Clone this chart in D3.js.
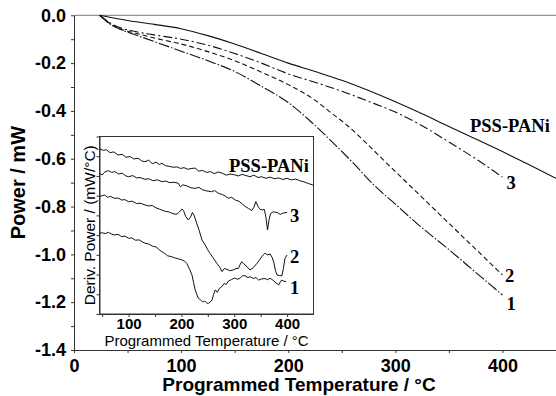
<!DOCTYPE html>
<html><head><meta charset="utf-8">
<script src="https://cdn.jsdelivr.net/npm/d3@7/dist/d3.min.js"></script>
<style>body{margin:0;background:#fff}svg{display:block}</style>
</head><body>
<svg id="c" width="556" height="396"></svg>
<script>
// ---- Main plot data: Programmed Temperature (°C) vs Power (mW)
const mainPSS = [[24,0],[50,-0.022],[75,-0.038],[100,-0.056],[125,-0.085],[150,-0.12],[175,-0.16],[200,-0.2],[225,-0.235],[250,-0.272],[275,-0.315],[300,-0.362],[325,-0.412],[350,-0.465],[375,-0.517],[400,-0.57],[425,-0.625],[450,-0.682]];
const main3 = [[24,0],[30,-0.02],[35,-0.035],[45,-0.055],[55,-0.066],[75,-0.082],[100,-0.1],[125,-0.125],[150,-0.16],[175,-0.2],[200,-0.245],[225,-0.28],[250,-0.318],[275,-0.36],[300,-0.405],[325,-0.462],[350,-0.53],[375,-0.6],[400,-0.677]];
const main2 = [[24,0],[30,-0.022],[35,-0.04],[45,-0.06],[55,-0.072],[75,-0.095],[100,-0.12],[125,-0.152],[150,-0.19],[175,-0.238],[200,-0.29],[225,-0.355],[240,-0.408],[255,-0.46],[270,-0.522],[290,-0.61],[320,-0.74],[350,-0.87],[375,-0.978],[400,-1.086]];
const main1 = [[24,0],[30,-0.024],[35,-0.04],[45,-0.062],[55,-0.078],[75,-0.11],[100,-0.15],[125,-0.19],[150,-0.235],[175,-0.297],[200,-0.365],[220,-0.44],[240,-0.525],[260,-0.615],[280,-0.71],[300,-0.79],[320,-0.87],[350,-0.98],[375,-1.075],[400,-1.17]];
const mainLabels = ["PSS-PANi","3","2","1"];
const yMainTicks = [0,-0.1,-0.2,-0.3,-0.4,-0.5,-0.6,-0.7,-0.8,-0.9,-1.0,-1.1,-1.2,-1.3,-1.4];
const xMainTicks = [0,50,100,150,200,250,300,350,400,450];

// ---- Inset data: Deriv. Power (arbitrary offset units)
const insPSS = [[45,8.37],[52,8.30],[58,8.33],[65,8.18],[72,8.22],[80,8.06],[88,8.10],[95,7.95],[103,7.98],[110,7.86],[118,7.90],[125,7.76],[131,7.72],[138,7.80],[145,7.62],[152,7.70],[158,7.58],[163,7.64],[170,7.52],[178,7.48],[185,7.44],[192,7.46],[198,7.38],[205,7.42],[212,7.34],[220,7.38],[226,7.40],[233,7.24],[240,7.28],[248,7.18],[255,7.22],[262,7.12],[270,7.20],[277,7.14],[285,7.04],[292,7.10],[300,7.06],[308,7.00],[315,7.08],[322,7.02],[330,6.96],[337,7.04],[345,6.92],[352,6.96],[360,6.88],[368,6.94],[376,6.86],[384,6.90],[392,6.82],[400,6.88],[408,6.80],[416,6.84],[424,6.76],[432,6.70],[440,6.62],[449,6.54]];
const ins3 = [[45,7.13],[50,7.05],[55,7.20],[62,7.27],[68,7.18],[74,7.22],[81,7.10],[88,7.14],[95,7.00],[100,6.96],[108,7.02],[115,6.90],[122,6.92],[131,6.83],[138,6.86],[146,6.76],[155,6.80],[163,6.71],[170,6.74],[178,6.66],[186,6.68],[194,6.63],[198,6.45],[203,6.55],[210,6.50],[218,6.40],[226,6.37],[233,6.42],[240,6.30],[248,6.24],[257,6.20],[263,6.26],[270,6.12],[278,6.05],[285,5.95],[289,5.87],[295,5.92],[302,5.78],[310,5.70],[316,5.55],[321,5.45],[327,5.35],[333,5.25],[337,5.40],[341,5.70],[345,5.45],[349,5.30],[353,5.28],[357,5.30],[360,4.90],[363,4.26],[366,4.80],[369,5.10],[374,5.18],[381,5.15],[387,5.05],[393,5.12],[400,5.15]];
const ins2 = [[45,5.95],[50,6.00],[55,6.03],[60,5.92],[66,5.96],[74,5.86],[80,5.88],[87,5.78],[93,5.80],[100,5.69],[107,5.72],[115,5.60],[122,5.62],[131,5.53],[138,5.48],[145,5.50],[152,5.38],[158,5.32],[163,5.27],[170,5.20],[176,5.18],[182,5.11],[188,5.06],[192,5.07],[197,5.20],[201,5.32],[204,5.25],[208,4.95],[213,4.77],[217,4.90],[221,5.15],[224,5.00],[229,4.60],[234,4.20],[239,3.75],[245,3.50],[250,3.25],[254,3.08],[260,2.85],[267,2.57],[272,2.40],[277,2.15],[281,2.30],[286,2.27],[291,2.20],[298,2.23],[303,2.30],[308,2.32],[311,2.50],[314,2.65],[318,2.55],[324,2.40],[330,2.23],[336,2.35],[343,2.57],[348,2.75],[353,2.94],[358,3.08],[363,3.00],[368,3.04],[372,2.85],[375,2.60],[378,2.20],[381,1.98],[386,1.95],[390,1.93],[393,2.30],[396,2.82],[400,2.99]];
const ins1 = [[45,4.09],[50,4.12],[56,4.08],[62,4.14],[68,4.05],[74,4.01],[80,4.04],[87,3.92],[93,3.95],[100,3.84],[106,3.86],[113,3.74],[120,3.76],[126,3.66],[131,3.59],[138,3.55],[145,3.44],[152,3.40],[158,3.26],[163,3.16],[168,3.08],[174,2.95],[181,2.91],[187,2.85],[194,2.80],[201,2.74],[206,2.68],[210,2.57],[215,2.30],[220,1.98],[223,1.60],[226,1.22],[229,1.00],[232,0.80],[236,0.72],[240,0.62],[244,0.66],[248,0.55],[251,0.54],[255,0.62],[258,0.71],[261,1.00],[264,1.22],[268,1.10],[272,1.30],[276,1.37],[281,1.55],[285,1.50],[289,1.67],[295,1.75],[301,1.83],[306,1.76],[311,1.81],[316,1.95],[321,1.93],[326,1.85],[330,1.89],[336,1.80],[341,1.85],[346,1.72],[352,1.78],[358,1.80],[363,1.74],[368,1.81],[374,1.70],[379,1.58],[384,1.47],[387,1.62],[390,1.72],[394,1.66],[398,1.64]];
const insLabels = ["PSS-PANi","3","2","1"];
const xInsTicks = [50,100,150,200,250,300,350,400];
const yInsTicks = [0,1,2,3,4,5,6,7,8,9];

const svg = d3.select("#c");
const SANS = "'Liberation Sans', Arial, sans-serif";
const SERIF = "'Liberation Serif', 'Times New Roman', serif";

// ---------- Main plot ----------
const x = d3.scaleLinear([0,450],[74,556]);
const y = d3.scaleLinear([-1.4,0],[350,15.3]);

const axisCol = "#333";
svg.append("line").attr("x1",x(0)).attr("x2",x(450)).attr("y1",y(0)).attr("y2",y(0))
  .attr("stroke","#777").attr("stroke-width",1);

const fmt1 = d => d3.format(".1f")(d).replace("−","-");
const gy = svg.append("g").attr("transform",`translate(${x(0)},0)`)
  .call(d3.axisLeft(y).tickValues(yMainTicks).tickSize(3).tickSizeOuter(0).tickPadding(5)
    .tickFormat(d => (Math.round(Math.abs(d)*10)%2===0) ? fmt1(d) : ""));
const gx = svg.append("g").attr("transform",`translate(0,${y(-1.4)})`)
  .call(d3.axisBottom(x).tickValues(xMainTicks).tickSize(3).tickSizeOuter(0).tickPadding(6)
    .tickFormat(d => (d%100===0 && d<450) ? d : ""));
[gy,gx].forEach(g=>{
  g.selectAll("path,line").attr("stroke",axisCol);
  g.selectAll("text").attr("font-family",SANS).attr("font-weight","bold").attr("font-size",18).attr("fill","#000");
});

svg.append("text").attr("x",299).attr("y",391).attr("text-anchor","middle")
  .attr("font-family",SANS).attr("font-weight","bold").attr("font-size",19)
  .text("Programmed Temperature / °C");
svg.append("text").attr("transform",`translate(25,${(y(0)+y(-1.4))/2}) rotate(-90)`).attr("text-anchor","middle")
  .attr("font-family",SANS).attr("font-weight","bold").attr("font-size",20)
  .text("Power / mW");

const lineMain = d3.line().x(d=>x(d[0])).y(d=>y(d[1])).curve(d3.curveMonotoneX);
const mainSeries = [
  {d:mainPSS, dash:null},
  {d:main3, dash:"9,3,2,3"},
  {d:main2, dash:"5,3"},
  {d:main1, dash:"11,2,1.5,2"}
];
mainSeries.forEach(s=>{
  svg.append("path").attr("d",lineMain(s.d)).attr("fill","none").attr("stroke","#111")
    .attr("stroke-width",1.1).attr("stroke-dasharray",s.dash);
});
const mainLabPos = [[470,131.5],[506.5,188.5],[505,281.5],[506.5,310]];
mainLabels.forEach((t,i)=>{
  svg.append("text").attr("x",mainLabPos[i][0]).attr("y",mainLabPos[i][1])
    .attr("font-family",SERIF).attr("font-weight","bold").attr("font-size",18.5).text(t);
});

// ---------- Inset ----------
const xi = d3.scaleLinear([45,450],[99.5,313.5]);
const yi = d3.scaleLinear([0,9],[314,136.5]);
svg.append("rect").attr("x",xi(45)).attr("y",yi(9)).attr("width",xi(450)-xi(45)).attr("height",yi(0)-yi(9))
  .attr("fill","#fff").attr("stroke","#333").attr("stroke-width",1);

const giy = svg.append("g").attr("transform",`translate(${xi(45)},0)`)
  .call(d3.axisLeft(yi).tickValues(yInsTicks).tickSize(3).tickSizeOuter(0).tickFormat(""));
const gix = svg.append("g").attr("transform",`translate(0,${yi(0)})`)
  .call(d3.axisBottom(xi).tickValues(xInsTicks).tickSize(3).tickSizeOuter(0).tickPadding(1)
    .tickFormat(d => d%100===0 ? d : ""));
[giy,gix].forEach(g=>{
  g.selectAll("path,line").attr("stroke",axisCol);
  g.selectAll("text").attr("font-family",SANS).attr("font-weight","bold").attr("font-size",15).attr("fill","#000");
});
svg.append("text").attr("x",(xi(45)+xi(450))/2).attr("y",346).attr("text-anchor","middle")
  .attr("font-family",SANS).attr("font-size",15).text("Programmed Temperature / °C");
svg.append("text").attr("transform",`translate(94.5,${(yi(0)+yi(9))/2}) rotate(-90)`).attr("text-anchor","middle")
  .attr("font-family",SANS).attr("font-size",15.5).text("Deriv. Power / (mW/°C)");

const lineIns = d3.line().x(d=>xi(d[0])).y(d=>yi(d[1]));
[insPSS,ins3,ins2,ins1].forEach(s=>{
  svg.append("path").attr("d",lineIns(s)).attr("fill","none").attr("stroke","#111").attr("stroke-width",1);
});
const insLabPos = [[229,171.7],[290,221.7],[290,262.5],[290,294]];
insLabels.forEach((t,i)=>{
  svg.append("text").attr("x",insLabPos[i][0]).attr("y",insLabPos[i][1])
    .attr("font-family",SERIF).attr("font-weight","bold").attr("font-size",18.5).text(t);
});
</script>
</body></html>
